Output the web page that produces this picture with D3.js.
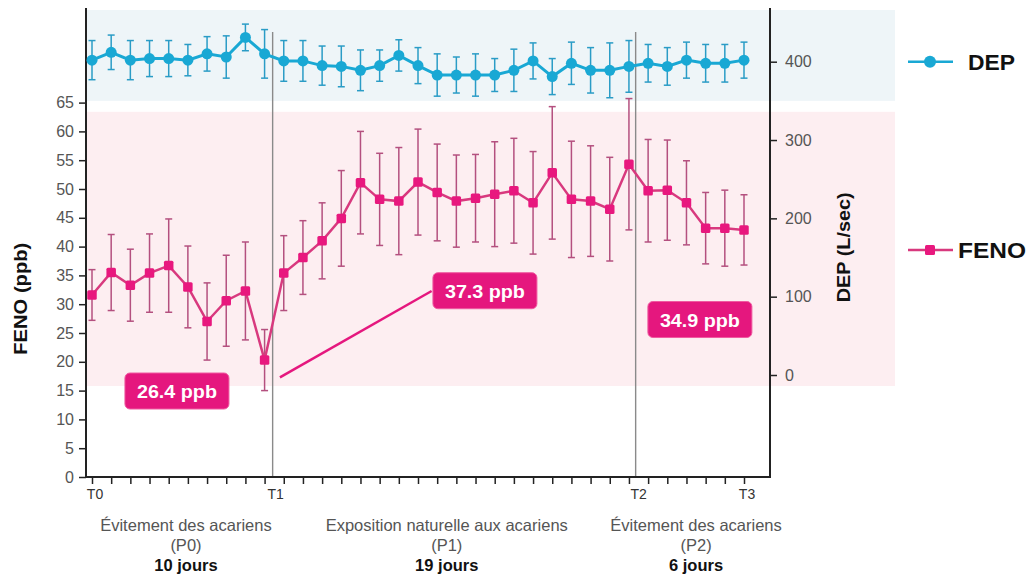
<!DOCTYPE html>
<html>
<head>
<meta charset="utf-8">
<script src="https://cdn.jsdelivr.net/npm/d3@7/dist/d3.min.js"></script>
<style>
  html, body { margin: 0; padding: 0; background: #fff; }
  svg { display: block; font-family: "Liberation Sans", Arial, sans-serif; }
</style>
</head>
<body>
<svg id="chart" width="1031" height="578"></svg>
<script>
// ---------------- DATA ----------------
const dayIndex = d3.range(35); // 35 daily measurements
const depValues = [402,412,402,404,404,402,410,406,431,410,
                   401,401,395,394,389,395,408,395,383,383,383,383,389,401,381,398,389,389,394,
                   398,394,402,398,398,402];
const depErrors = [25,22,25,23,23,20,22,27,17,31,
                   26,26,25,26,26,20,20,23,27,23,27,21,27,23,23,27,29,35,33,
                   24,24,23,24,24,23];
const fenoValues = [31.6,35.5,33.3,35.4,36.7,33.0,27.0,30.6,32.3,20.3,
                    35.4,38.1,41.0,44.9,51.1,48.2,47.9,51.2,49.4,47.9,48.4,49.1,49.7,47.6,52.8,48.2,47.9,46.5,54.3,
                    49.7,49.8,47.6,43.2,43.2,42.9];
const fenoErrors = [4.4,6.6,6.25,6.8,8.1,7.1,6.7,7.9,8.5,5.3,
                    6.5,6.4,6.6,8.3,8.9,8.0,9.3,9.2,8.4,8.0,7.6,9.1,9.1,8.9,11.5,10.1,9.6,9.0,11.4,
                    8.9,8.7,7.3,6.2,6.6,6.1];
const timeMarks = ["T0","T1","T2","T3"];
const timeMarkPos = [0, 9.42, 28.35, 34];
const periodTitles = ["Évitement des acariens","Exposition naturelle aux acariens","Évitement des acariens"];
const periodCodes = ["(P0)","(P1)","(P2)"];
const periodDays = ["10 jours","19 jours","6 jours"];
const periodCenters = [4.9, 18.5, 31.5];
const fenoTicks = d3.range(0, 70, 5);
const depTicks = [0,100,200,300,400];
const annotTexts = ["26.4 ppb","37.3 ppb","34.9 ppb"];
const annotIdx = [4.43, 20.49, 31.70];
const annotFeno = [14.93, 32.34, 27.34];
const connector = [[9.80, 17.31],[17.71, 32.29]];
const legendNames = ["DEP","FENO"];

// ---------------- LAYOUT ----------------
const svg = d3.select("#chart");
const axL = 86, axR = 770, axB = 477, axTop = 8, bandRight = 895;
const x = d3.scaleLinear().domain([0, 34]).range([92, 744]);
const yL = d3.scaleLinear().domain([0, 65]).range([477, 102.6]);
const yR = d3.scaleLinear().domain([0, 400]).range([375, 61.7]);

const C = {
  depLine: "#19a8d4", depErr: "#2a9cc6", depBand: "#eef5f8",
  fenoLine: "#d8397e", fenoMark: "#e8187e", fenoErr: "#b4507f", fenoBand: "#fdeef1",
  box: "#e5177e", axis: "#222", tick: "#555", grid: "#8a8a8a"
};

// bands
svg.append("rect").attr("x", axL + 1).attr("width", bandRight - axL - 1)
  .attr("y", yR(466)).attr("height", yR(350) - yR(466)).attr("fill", C.depBand);
svg.append("rect").attr("x", axL + 1).attr("width", bandRight - axL - 1)
  .attr("y", yL(63.4)).attr("height", yL(15.8) - yL(63.4)).attr("fill", C.fenoBand);

// period separators
[timeMarkPos[1], timeMarkPos[2]].forEach(p => {
  svg.append("line").attr("x1", x(p)).attr("x2", x(p)).attr("y1", 32).attr("y2", axB)
    .attr("stroke", C.grid).attr("stroke-width", 1.4);
});

// axes
const gL = svg.append("g").attr("transform", `translate(${axL},0)`)
  .call(d3.axisLeft(yL).tickValues(fenoTicks).tickSize(7).tickPadding(5).tickSizeOuter(0));
gL.select(".domain").remove();
const gR = svg.append("g").attr("transform", `translate(${axR},0)`)
  .call(d3.axisRight(yR).tickValues(depTicks).tickSize(7).tickPadding(8).tickSizeOuter(0));
gR.select(".domain").remove();
const gB = svg.append("g").attr("transform", `translate(0,${axB})`)
  .call(d3.axisBottom(x).tickValues(dayIndex).tickSize(7).tickFormat("").tickSizeOuter(0));
gB.select(".domain").remove();
[gL, gR, gB].forEach(g => {
  g.selectAll(".tick line").attr("stroke", C.axis).attr("stroke-width", 1.5);
  g.selectAll(".tick text").attr("fill", C.tick).style("font-size", "16px")
    .style("font-family", "'Liberation Sans', Arial, sans-serif");
});
svg.append("line").attr("x1", axL).attr("x2", axL).attr("y1", axTop).attr("y2", axB + 1)
  .attr("stroke", C.axis).attr("stroke-width", 2);
svg.append("line").attr("x1", axR).attr("x2", axR).attr("y1", axTop).attr("y2", axB + 1)
  .attr("stroke", C.axis).attr("stroke-width", 2);
svg.append("line").attr("x1", axL).attr("x2", axR).attr("y1", axB).attr("y2", axB)
  .attr("stroke", C.axis).attr("stroke-width", 2);

// axis titles
svg.append("text").attr("transform", `translate(27,${(yL(40.6)+yL(21.3))/2}) rotate(-90)`)
  .attr("text-anchor", "middle").attr("font-weight", "bold").attr("font-size", 18)
  .attr("textLength", 112).attr("lengthAdjust", "spacingAndGlyphs").attr("fill", "#111")
  .text("FENO (ppb)");
svg.append("text").attr("transform", `translate(850,${yR(163)}) rotate(-90)`)
  .attr("text-anchor", "middle").attr("font-weight", "bold").attr("font-size", 18)
  .attr("textLength", 110).attr("lengthAdjust", "spacingAndGlyphs").attr("fill", "#111")
  .text("DEP (L/sec)");

// time marks
timeMarks.forEach((t, i) => {
  svg.append("text").attr("x", x(timeMarkPos[i]) + 3).attr("y", 499).attr("text-anchor", "middle")
    .attr("font-size", 14).attr("fill", "#333").text(t);
});
// periods
periodTitles.forEach((t, i) => {
  const cx = x(periodCenters[i]);
  svg.append("text").attr("x", cx).attr("y", 531).attr("text-anchor", "middle")
    .attr("font-size", 16.5).attr("fill", "#555").text(t);
  svg.append("text").attr("x", cx).attr("y", 551).attr("text-anchor", "middle")
    .attr("font-size", 16.5).attr("fill", "#555").text(periodCodes[i]);
  svg.append("text").attr("x", cx).attr("y", 571).attr("text-anchor", "middle")
    .attr("font-size", 16.5).attr("font-weight", "bold").attr("fill", "#111").text(periodDays[i]);
});

// ---------------- DEP series ----------------
const capW = 3.5;
const gDep = svg.append("g");
dayIndex.forEach(i => {
  const cx = x(i), y1 = yR(depValues[i] + depErrors[i]), y2 = yR(depValues[i] - depErrors[i]);
  gDep.append("line").attr("x1", cx).attr("x2", cx).attr("y1", y1).attr("y2", y2)
    .attr("stroke", C.depErr).attr("stroke-width", 1.5);
  [y1, y2].forEach(yy => gDep.append("line").attr("x1", cx - capW).attr("x2", cx + capW)
    .attr("y1", yy).attr("y2", yy).attr("stroke", C.depErr).attr("stroke-width", 1.5));
});
gDep.append("path").datum(dayIndex)
  .attr("d", d3.line().x(i => x(i)).y(i => yR(depValues[i])))
  .attr("fill", "none").attr("stroke", C.depLine).attr("stroke-width", 3);
gDep.selectAll("circle").data(dayIndex).join("circle")
  .attr("cx", i => x(i)).attr("cy", i => yR(depValues[i])).attr("r", 5.5).attr("fill", C.depLine);

// ---------------- FENO series ----------------
const gFeno = svg.append("g");
dayIndex.forEach(i => {
  const cx = x(i), y1 = yL(fenoValues[i] + fenoErrors[i]), y2 = yL(fenoValues[i] - fenoErrors[i]);
  gFeno.append("line").attr("x1", cx).attr("x2", cx).attr("y1", y1).attr("y2", y2)
    .attr("stroke", C.fenoErr).attr("stroke-width", 1.5);
  [y1, y2].forEach(yy => gFeno.append("line").attr("x1", cx - capW).attr("x2", cx + capW)
    .attr("y1", yy).attr("y2", yy).attr("stroke", C.fenoErr).attr("stroke-width", 1.5));
});
gFeno.append("path").datum(dayIndex)
  .attr("d", d3.line().x(i => x(i)).y(i => yL(fenoValues[i])))
  .attr("fill", "none").attr("stroke", C.fenoLine).attr("stroke-width", 2.5);
const sq = 9.5;
gFeno.selectAll("rect").data(dayIndex).join("rect")
  .attr("x", i => x(i) - sq / 2).attr("y", i => yL(fenoValues[i]) - sq / 2)
  .attr("width", sq).attr("height", sq).attr("rx", 1.5).attr("fill", C.fenoMark);

// ---------------- Annotations ----------------
svg.append("line")
  .attr("x1", x(connector[0][0])).attr("y1", yL(connector[0][1]))
  .attr("x2", x(connector[1][0])).attr("y2", yL(connector[1][1]))
  .attr("stroke", C.box).attr("stroke-width", 2.5);
annotTexts.forEach((t, i) => {
  const cx = x(annotIdx[i]), cy = yL(annotFeno[i]);
  svg.append("rect").attr("x", cx - 52).attr("y", cy - 18).attr("width", 104).attr("height", 36)
    .attr("rx", 5).attr("fill", C.box).attr("stroke", "#ef5aa0").attr("stroke-width", 1);
  svg.append("text").attr("x", cx).attr("y", cy + 7).attr("text-anchor", "middle")
    .attr("font-size", 19).attr("font-weight", "bold").attr("fill", "#fff")
    .attr("textLength", 80).attr("lengthAdjust", "spacingAndGlyphs").text(t);
});

// ---------------- Legend ----------------
const legY = [61.7, 250];
const legTextX = [968, 958];
const legLen = [47, 68];
legendNames.forEach((n, i) => {
  const col = i === 0 ? C.depLine : C.fenoLine;
  svg.append("line").attr("x1", 908).attr("x2", 953).attr("y1", legY[i]).attr("y2", legY[i])
    .attr("stroke", col).attr("stroke-width", 2.5);
  if (i === 0) {
    svg.append("circle").attr("cx", 930).attr("cy", legY[i]).attr("r", 6).attr("fill", C.depLine);
  } else {
    svg.append("rect").attr("x", 930 - 5).attr("y", legY[i] - 5).attr("width", 10).attr("height", 10)
      .attr("rx", 1.5).attr("fill", C.fenoMark);
  }
  svg.append("text").attr("x", legTextX[i]).attr("y", legY[i] + 8).attr("font-size", 22)
    .attr("font-weight", "bold").attr("fill", "#111")
    .attr("textLength", legLen[i]).attr("lengthAdjust", "spacingAndGlyphs").text(n);
});
</script>
</body>
</html>
